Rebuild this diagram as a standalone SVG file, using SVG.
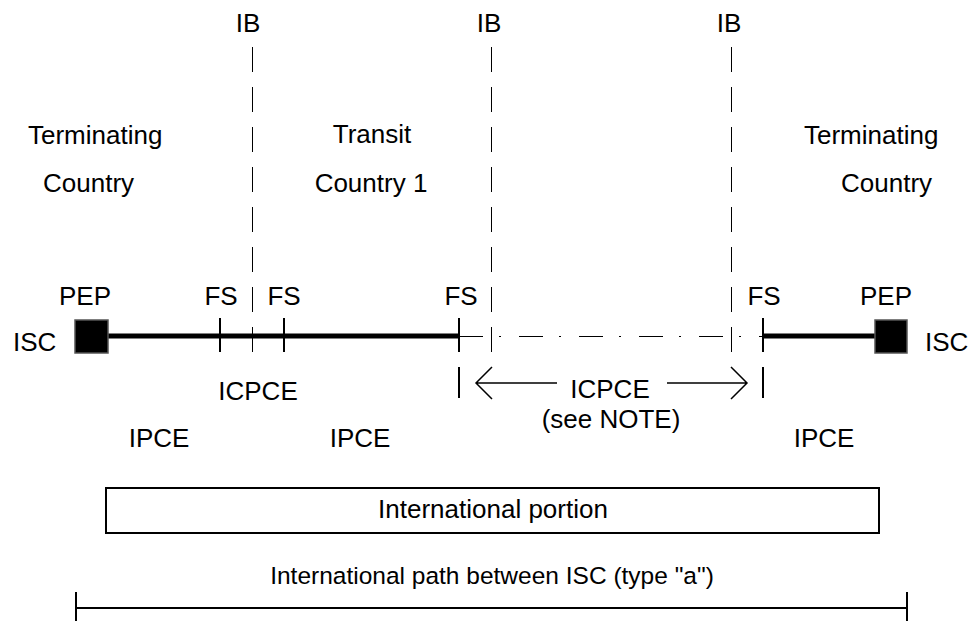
<svg xmlns="http://www.w3.org/2000/svg" width="972" height="621" viewBox="0 0 972 621">
<style>
text{font-family:"Liberation Sans",Arial,sans-serif;font-size:26px;fill:#000}
.m{text-anchor:middle}
.ib{stroke:#000;stroke-width:1;stroke-dasharray:25 15;fill:none}
.thick{stroke:#000;stroke-width:5;fill:none}
.tick{stroke:#000;stroke-width:2;fill:none}
.thin{stroke:#000;stroke-width:1.5;fill:none}
.pep{fill:#000;stroke:#555;stroke-width:1.5}
</style>
<rect width="972" height="621" fill="#fff"/>
<g id="boundaries">
<line class="ib" x1="252.5" y1="47" x2="252.5" y2="352"/>
<line class="ib" x1="491.5" y1="47" x2="491.5" y2="352"/>
<line class="ib" x1="731.5" y1="47" x2="731.5" y2="352"/>
<text class="m" x="248" y="32">IB</text>
<text class="m" x="489" y="32">IB</text>
<text class="m" x="729" y="32">IB</text>
</g>
<g id="countries">
<text x="28" y="144">Terminating</text>
<text x="43" y="192">Country</text>
<text class="m" x="372" y="143">Transit</text>
<text class="m" x="371" y="192">Country 1</text>
<text x="804" y="144">Terminating</text>
<text x="841" y="192">Country</text>
</g>
<g id="connectors">
<line class="thick" x1="108" y1="336" x2="459" y2="336"/>
<line class="thick" x1="763" y1="336" x2="875" y2="336"/>
<line x1="459" y1="336.5" x2="763" y2="336.5" stroke="#000" stroke-width="1" stroke-dasharray="24 16 2 18"/>
<line class="tick" x1="220" y1="318" x2="220" y2="352"/>
<line class="tick" x1="284" y1="318" x2="284" y2="352"/>
<line class="tick" x1="459" y1="318" x2="459" y2="352"/>
<line class="tick" x1="763" y1="318" x2="763" y2="352"/>
<line class="tick" x1="459" y1="367" x2="459" y2="398"/>
<line class="tick" x1="763" y1="367" x2="763" y2="398"/>
<path class="thin" d="M557 383H476M492 367L476 383L492 399"/>
<path class="thin" d="M667 383H747M731 367L747 383L731 399"/>
<line class="tick" x1="75" y1="608" x2="907" y2="608"/>
<line class="tick" x1="76" y1="592" x2="76" y2="621"/>
<line class="tick" x1="907" y1="592" x2="907" y2="621"/>
</g>
<g id="pep-left">
<rect class="pep" x="75" y="320" width="33" height="33"/>
<text class="m" x="85" y="305">PEP</text>
<text x="13" y="351">ISC</text>
</g>
<g id="pep-right">
<rect class="pep" x="875" y="320" width="32" height="33"/>
<text class="m" x="886" y="305">PEP</text>
<text x="925" y="351">ISC</text>
</g>
<g id="fs-labels">
<text class="m" x="221" y="305">FS</text>
<text class="m" x="284" y="305">FS</text>
<text class="m" x="461" y="305">FS</text>
<text class="m" x="764" y="305">FS</text>
</g>
<g id="elements">
<text class="m" x="258" y="400">ICPCE</text>
<text class="m" x="610" y="398">ICPCE</text>
<text class="m" x="611" y="428">(see NOTE)</text>
<text class="m" x="159" y="447">IPCE</text>
<text class="m" x="360" y="447">IPCE</text>
<text class="m" x="824" y="447">IPCE</text>
</g>
<g id="international-portion">
<rect x="106" y="488" width="773" height="45" fill="#fff" stroke="#000" stroke-width="2"/>
<text class="m" x="493" y="518">International portion</text>
</g>
<g id="international-path">
<text class="m" x="492" y="584" style="font-size:24.5px">International path between ISC (type "a")</text>
</g>
</svg>
